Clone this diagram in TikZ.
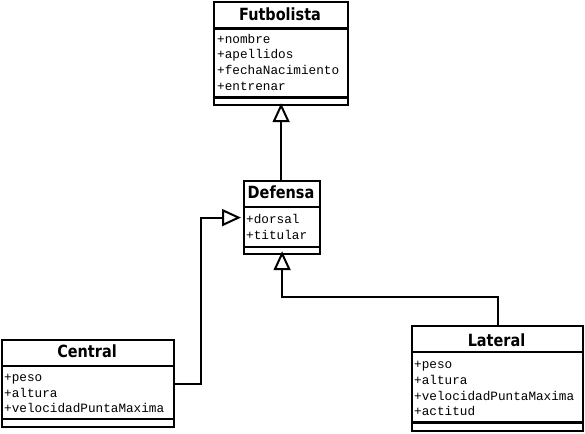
\documentclass[tikz,border=0pt]{standalone}
\usepackage{fontspec}
\usetikzlibrary{arrows.meta}
\newfontfamily\titlefont[FakeStretch=0.86]{DejaVu Sans}
\newfontfamily\attrfont{Liberation Mono}
\begin{document}
\begin{tikzpicture}[x=1pt,y=-1pt,
  cls/.style={draw, line width=2.2pt, anchor=north west, inner sep=0pt},
  ttl/.style={anchor=base, inner sep=0pt, font=\titlefont\bfseries\fontsize{16.8}{19}\selectfont},
  attr/.style={anchor=base west, inner sep=0pt, font=\attrfont\fontsize{12.7}{15}\selectfont},
  sep/.style={line width=2.2pt},
  inh/.style={line width=2pt, -{Triangle[open,length=19pt,width=17pt]}}]
\useasboundingbox (0,0) rectangle (585,433);
% Futbolista
\node[cls, minimum width=134pt, minimum height=103pt] (fut) at (213,1) {};
\node[ttl] (futT) at (280,21) {Futbolista};
\draw[sep] (fut.west |- 0,28.5) -- (fut.east |- 0,28.5);
\node[attr] (fa1) at (217,43.5) {+nombre};
\node[attr] (fa2) at (217,59) {+apellidos};
\node[attr] (fa3) at (217,75) {+fechaNacimiento};
\node[attr] (fa4) at (217,90.5) {+entrenar};
\draw[sep] (fut.west |- 0,97.5) -- (fut.east |- 0,97.5);
% Defensa
\node[cls, minimum width=76pt, minimum height=73pt] (def) at (243,180) {};
\node[ttl] (defT) at (281,198.5) {Defensa};
\draw[sep] (def.west |- 0,207) -- (def.east |- 0,207);
\node[attr] (da1) at (246,223) {+dorsal};
\node[attr] (da2) at (246,239) {+titular};
\draw[sep] (def.west |- 0,247) -- (def.east |- 0,247);
% Central
\node[cls, minimum width=172pt, minimum height=87pt] (cen) at (1,339) {};
\node[ttl] (cenT) at (87,357.5) {Central};
\draw[sep] (cen.west |- 0,366) -- (cen.east |- 0,366);
\node[attr] (ca1) at (4,381) {+peso};
\node[attr] (ca2) at (4,397) {+altura};
\node[attr] (ca3) at (4,412.5) {+velocidadPuntaMaxima};
\draw[sep] (cen.west |- 0,419) -- (cen.east |- 0,419);
% Lateral
\node[cls, minimum width=171pt, minimum height=105pt] (lat) at (411,325) {};
\node[ttl] (latT) at (496.5,346) {Lateral};
\draw[sep] (lat.west |- 0,352) -- (lat.east |- 0,352);
\node[attr] (la1) at (414,368) {+peso};
\node[attr] (la2) at (414,384) {+altura};
\node[attr] (la3) at (414,400) {+velocidadPuntaMaxima};
\node[attr] (la4) at (414,415.5) {+actitud};
\draw[sep] (lat.west |- 0,422.5) -- (lat.east |- 0,422.5);
% Connectors
\draw[inh] (def.north -| fut.south) -- ([yshift=3pt]fut.south);
\draw[inh] (cen.east) -- ++(26,0) |- ([xshift=-2pt]def.west);
\draw[inh] (lat.north) -- ++(0,-28) -| ([yshift=4pt]def.south);
\end{tikzpicture}
\end{document}
